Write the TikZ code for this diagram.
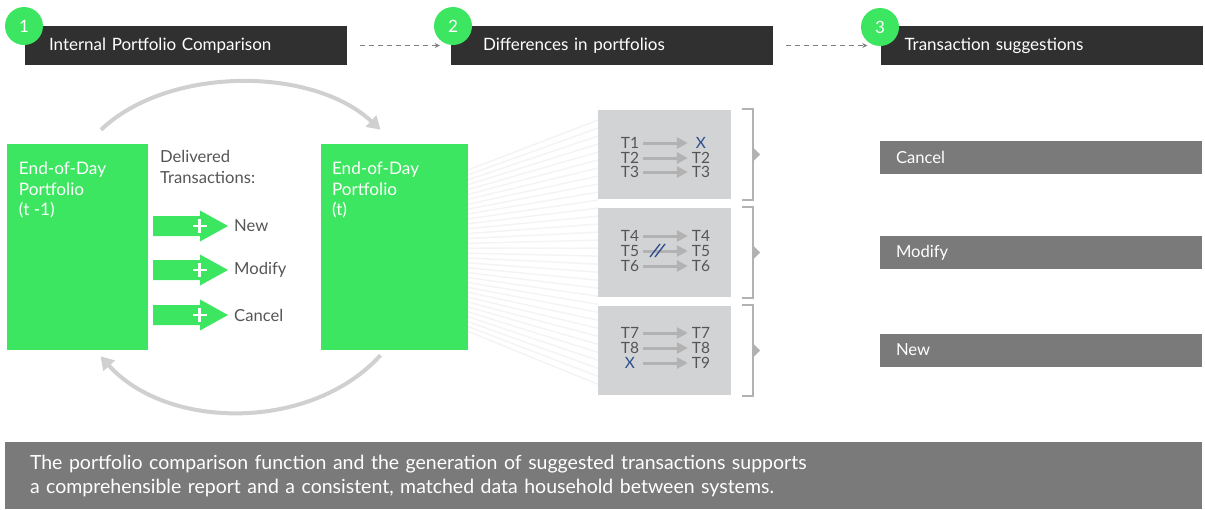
\documentclass[tikz,border=0pt]{standalone}
\usepackage{fontspec}
\setmainfont{Lato}
\usetikzlibrary{arrows.meta,calc,positioning}

\definecolor{eodgreen}{HTML}{3DE660}
\definecolor{bardark}{HTML}{303030}
\definecolor{bargray}{HTML}{7A7A7A}
\definecolor{boxgray}{HTML}{D2D3D5}
\definecolor{arcgray}{HTML}{D0D0D0}
\definecolor{tgray}{HTML}{B2B2B2}
\definecolor{xblue}{HTML}{2B4C8C}
\definecolor{txtgray}{HTML}{555555}
\definecolor{fangray}{HTML}{F4F4F4}

\tikzset{
  hdbar/.style={fill=bardark,text=white,minimum width=322pt,minimum height=39pt,
    text width=274pt,inner xsep=24pt,inner ysep=0pt,align=left,font=\fontsize{17}{20}\selectfont},
  numdot/.style={circle,fill=eodgreen,text=white,minimum size=38pt,inner sep=0pt,
    font=\fontsize{17}{20}\selectfont},
  dasharr/.style={draw=gray,line width=1pt,dash pattern=on 5pt off 4pt,-{Stealth[length=5pt,width=5pt]}},
  eodbox/.style={fill=eodgreen,minimum width=141pt,minimum height=206pt,inner sep=0pt},
  eodtxt/.style={anchor=north west,text=white,align=left,inner sep=0pt,font=\fontsize{17.2}{20.5}\selectfont},
  arcarr/.style={draw=arcgray,line width=4pt,-{Triangle[length=13pt,width=15pt]}},
  sidetxt/.style={text=txtgray,inner sep=0pt,font=\fontsize{16.6}{21.5}\selectfont},
  cmpbox/.style={fill=boxgray,minimum width=133pt,minimum height=89pt,inner sep=0pt},
  tlab/.style={text=txtgray,minimum width=20pt,inner sep=0pt,font=\fontsize{15.5}{15.5}\selectfont},
  tarr/.style={draw=tgray,line width=3pt,shorten <=3pt,shorten >=3pt,-{Triangle[length=11pt,width=11pt]}},
  brack/.style={draw=tgray,line width=2.5pt},
  sugbar/.style={fill=bargray,text=white,minimum width=322pt,minimum height=33pt,
    text width=290pt,inner xsep=16pt,inner ysep=0pt,align=left,font=\fontsize{16.6}{20}\selectfont},
  fanline/.style={draw=fangray,line width=1.5pt}
}

\begin{document}
\begin{tikzpicture}[x=1pt,y=-1pt]
\useasboundingbox (0,0) rectangle (1205,509);

% step headers
\node[hdbar] (hd1) at (186,45.5) {Internal Portfolio Comparison};
\node[hdbar,text width=258pt,inner xsep=32pt] (hd2) at (612,45.5) {Differences in portfolios};
\node[hdbar] (hd3) at (1041.5,45.5) {Transaction suggestions};
\node[numdot] (n1) at (24,26) {1};
\node[numdot] (n2) at (453,26) {2};
\node[numdot] (n3) at (880,27) {3};
\draw[dasharr] ([xshift=13pt]hd1.east) -- ([xshift=-11pt]hd2.west);
\draw[dasharr] ([xshift=13pt]hd2.east) -- ([xshift=-13pt]hd3.west);

% fan between portfolio and comparison boxes
\foreach \t in {0,0.03,...,1.01}
  \draw[fanline] (468,{170+163*\t}) -- (598,{120+267*\t});

% end-of-day portfolios
\node[eodbox] (eod0) at (77.5,247) {};
\node[eodbox,minimum width=147pt] (eod1) at (394.5,247) {};
\node[eodtxt] (eod0txt) at ([xshift=12pt,yshift=-18pt]eod0.north west) {End-of-Day\\Portfolio\\(t -1)};
\node[eodtxt] (eod1txt) at ([xshift=11pt,yshift=-18pt]eod1.north west) {End-of-Day\\Portfolio\\(t)};

% cycle arcs
\coordinate (a0) at ($(eod0.north)+(23.5,-14)$);
\coordinate (a1) at ($(eod1.north)+(-14,-14)$);
\coordinate (b0) at ($(eod0.south)+(23,6)$);
\coordinate (b1) at ($(eod1.south)+(-14,5)$);
\draw[arcarr] (a0) .. controls (168,66) and (312,66) .. (a1);
\draw[arcarr] (b1) .. controls (312,431) and (168,431) .. (b0);

% delivered transactions
\node[sidetxt,anchor=north west,align=left] (deliv) at (160,150) {Delivered\\Transactions:};
\foreach \y/\lab [count=\i] in {226/New,270/Modify,315/Cancel}{
  \fill[eodgreen] (153,\y-10) -- (200,\y-10) -- (200,\y-15.5) -- (228,\y)
    -- (200,\y+15.5) -- (200,\y+10) -- (153,\y+10) -- cycle;
  \draw[white,line width=2.2pt] (192.5,\y) -- (206.5,\y) (199.5,\y-7) -- (199.5,\y+7);
  \node[sidetxt,anchor=west] (dl\i) at (234,\y) {\lab};
}

% comparison boxes
\node[cmpbox] (cmp1) at (664.5,154.5) {};
\node[cmpbox] (cmp2) at (664.5,252.5) {};
\node[cmpbox] (cmp3) at (664.5,350.5) {};
\foreach \i/\y/\l/\r in {1/143/T1/{\textcolor{xblue}{X}},2/158/T2/T2,3/172/T3/T3,
    4/236/T4/T4,5/251/T5/T5,6/266/T6/T6,
    7/333/T7/T7,8/348/T8/T8,9/363/{\textcolor{xblue}{X}}/T9}{
  \node[tlab] (tl\i) at (630,\y) {\l};
  \node[tlab] (tr\i) at (701,\y) {\r};
  \draw[tarr] (tl\i) -- (tr\i);
}
\draw[xblue,line width=1.3pt] (650,257) -- (660,244) (655,257) -- (665,244);

% brackets
\foreach \i in {1,2,3}{
  \draw[brack] ($(cmp\i.north east)+(11,-1)$) -| ($(cmp\i.east)+(22,0)$)
    |- ($(cmp\i.south east)+(11,1)$);
  \fill[tgray] ($(cmp\i.east)+(21,-8)$) -- ($(cmp\i.east)+(29,0)$) -- ($(cmp\i.east)+(21,8)$) -- cycle;
}

% suggestions
\node[sugbar] (sg1) at (1041,157.5) {Cancel};
\node[sugbar] (sg2) at (1041,252.5) {Modify};
\node[sugbar] (sg3) at (1041,350) {New};

% summary
\node[fill=bargray,text=white,minimum width=1197pt,minimum height=67pt,text width=1147pt,
  inner xsep=25pt,inner ysep=0pt,align=left,font=\fontsize{19.5}{24}\selectfont] (summary) at (603.5,475.5)
  {The portfolio comparison function and the generation of suggested transactions supports\\
   a comprehensible report and a consistent, matched data household between systems.};
\end{tikzpicture}
\end{document}
